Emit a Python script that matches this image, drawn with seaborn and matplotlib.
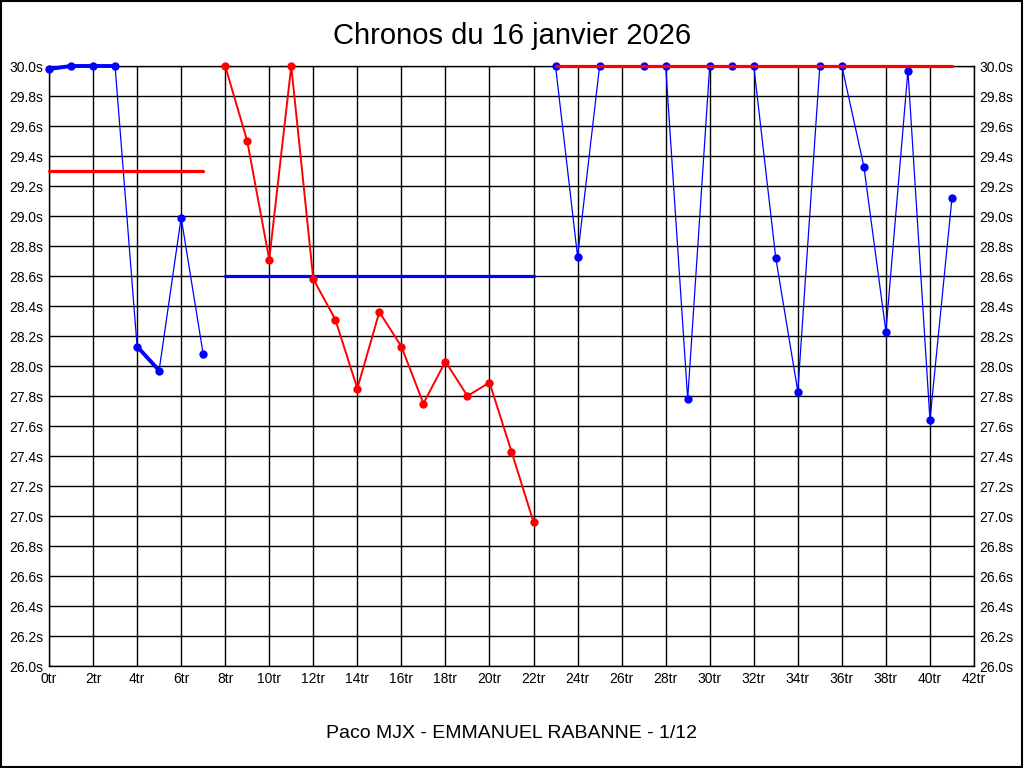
import matplotlib
matplotlib.use("Agg")
import matplotlib.pyplot as plt
import matplotlib.font_manager as fm
import seaborn as sns
import pandas as pd
from matplotlib.patches import Rectangle

# ---- data ----
tours_a = [0, 1, 2, 3, 4, 5, 6, 7]
temps_a = [29.98, 30.0, 30.0, 30.0, 28.13, 27.97, 28.99, 28.08]
tours_b = [8, 9, 10, 11, 12, 13, 14, 15, 16, 17, 18, 19, 20, 21, 22]
temps_b = [30.0, 29.5, 28.71, 30.0, 28.58, 28.31, 27.85, 28.36, 28.13, 27.75, 28.03, 27.80, 27.89, 27.43, 26.96]
tours_c = [23, 24, 25]
temps_c = [30.0, 28.73, 30.0]
tours_d = [27, 28, 29, 30, 31, 32, 33, 34, 35, 36, 37, 38, 39, 40, 41]
temps_d = [30.0, 30.0, 27.78, 30.0, 30.0, 30.0, 28.72, 27.83, 30.0, 30.0, 29.33, 28.23, 29.97, 27.64, 29.12]
thick_a = [(0, 3), (4, 5)]  # thicker blue segments (index ranges)
ref_a = (0, 7, 29.3)
ref_b = (8, 22, 28.6)
ref_cd = (23, 41, 30.0)
x_ticks = list(range(0, 43, 2))
y_ticks = [round(26.0 + 0.2 * i, 1) for i in range(21)]
title = "Chronos du 16 janvier 2026"
footer = "Paco MJX - EMMANUEL RABANNE - 1/12"

sns.set_style("white")
names = {f.name for f in fm.fontManager.ttflist}
narrow = "Liberation Sans Narrow" if "Liberation Sans Narrow" in names else "Liberation Sans"
plt.rcParams['font.family'] = ['Liberation Sans', 'DejaVu Sans']

fig = plt.figure(figsize=(10.24, 7.68), dpi=100)
ax = fig.add_axes([49/1024, 1 - 666/768, (974-49)/1024, 600/768])

BLUE = "#0000ff"
RED = "#ff0000"

def seg(x, y, color, lw, ms, z=3):
    df = pd.DataFrame({"tour": x, "temps": y})
    n0 = len(ax.lines)
    sns.lineplot(data=df, x="tour", y="temps", ax=ax, color=color, lw=lw,
                 marker="o", markersize=ms, markeredgewidth=0, sort=False,
                 estimator=None)
    for l in ax.lines[n0:]:
        l.set_zorder(z)
        l.set_clip_on(False)

seg(tours_a, temps_a, BLUE, 0.9, 6)
for i0, i1 in thick_a:
    d = pd.DataFrame({"tour": tours_a[i0:i1+1], "temps": temps_a[i0:i1+1]})
    n0 = len(ax.lines)
    sns.lineplot(data=d, x="tour", y="temps", ax=ax, color=BLUE, lw=2.8,
                 sort=False, estimator=None)
    for l in ax.lines[n0:]:
        l.set_zorder(3)
        l.set_clip_on(False)
seg(tours_c, temps_c, BLUE, 0.9, 6)
seg(tours_d, temps_d, BLUE, 0.9, 6)

for (x0, x1, yv), c in [(ref_a, RED), (ref_b, BLUE), (ref_cd, RED)]:
    d = pd.DataFrame({"tour": [x0, x1], "temps": [yv, yv]})
    n0 = len(ax.lines)
    sns.lineplot(data=d, x="tour", y="temps", ax=ax, color=c, lw=2.3,
                 estimator=None)
    for l in ax.lines[n0:]:
        l.set_zorder(4)
        l.set_clip_on(False)

seg(tours_b, temps_b, RED, 1.4, 6, z=5)

ax.set_xlim(0, 42)
ax.set_ylim(26.0, 30.0)
ax.set_xticks(x_ticks)
ax.set_xticklabels([f"{t}tr" for t in x_ticks], fontfamily=narrow, fontsize=10)
ax.set_yticks(y_ticks)
ax.set_yticklabels([f"{v:.1f}s" for v in y_ticks], fontfamily=narrow, fontsize=10)
ax.tick_params(axis="both", length=0, pad=4, labelcolor="black")
ax.tick_params(axis="y", labelright=True, right=False)
ax.grid(True, color="black", lw=1.0, zorder=1)
ax.set_axisbelow(True)
for s in ax.spines.values():
    s.set_color("black")
    s.set_linewidth(1.0)
ax.set_xlabel("")
ax.set_ylabel("")

fig.text(0.5, 1 - 36/768, title, ha="center", va="center", fontsize=21, color="black")
fig.text(0.5, 1 - 733/768, footer, ha="center", va="center", fontsize=14,
         fontfamily=narrow, color="black")
fig.patches.append(Rectangle((0.0005, 0.0008), 0.998, 0.998, transform=fig.transFigure,
                             fill=False, edgecolor="black", lw=1.5))

fig.savefig("out.png", dpi=100, facecolor="white")
